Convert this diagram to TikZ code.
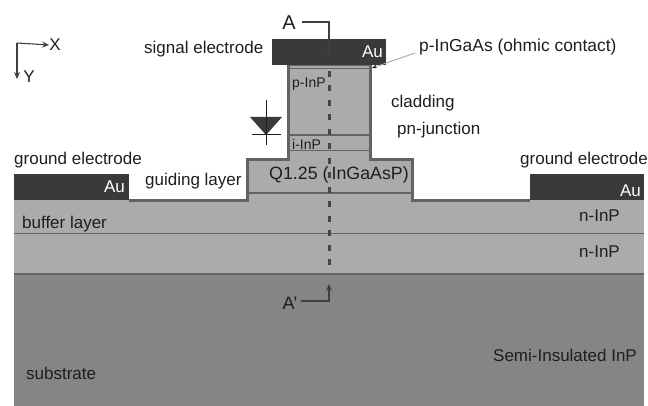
\documentclass[tikz,border=0pt]{standalone}
\usepackage{fontspec}
\setmainfont{Liberation Sans}
\usetikzlibrary{arrows.meta}
\definecolor{layergray}{HTML}{ABABAB}
\definecolor{subgray}{HTML}{858585}
\definecolor{edgegray}{HTML}{636363}
\definecolor{metalgray}{HTML}{3A3A3A}
\definecolor{inkgray}{HTML}{1E1E1E}

\begin{document}
\begin{tikzpicture}[
  x=1pt, y=-1pt,
  every node/.style={font=\fontsize{17}{20}\selectfont, text=inkgray, inner sep=0pt},
  gold/.style={fill=metalgray, draw=none, minimum height=26pt, anchor=north west},
  ridge/.style={draw=edgegray, line width=3pt, fill=layergray, line join=miter},
  seam/.style={draw=edgegray, line width=1.7pt},
  thinseam/.style={draw=edgegray, line width=1pt},
  pointer/.style={-{Stealth[length=7pt, width=6pt]}, draw=inkgray!85, line width=1.1pt},
  lbl/.style={anchor=west},
  lblsmall/.style={anchor=west, font=\fontsize{14}{16}\selectfont},
  aulbl/.style={anchor=east, text=white},
  diode/.style={draw=inkgray, line width=1pt}
]
\useasboundingbox (0,0) rectangle (648,406);

% layers
\fill[subgray] (14,274) rectangle (644,406);
\fill[layergray] (14,200) rectangle (644,274);
\draw[seam] (14,233.5) -- (644,233.5);
\draw[seam] (14,274) -- (644,274);

% ridge
\draw[ridge] (129,201) -- (247,201) -- (247,160) -- (288,160) -- (288,65)
  -- (370,65) -- (370,160) -- (412,160) -- (412,201) -- (530,201);
\draw[seam] (247,193) -- (412,193);
\draw[seam] (288,135) -- (370,135);
\draw[thinseam] (288,151) -- (370,151);
\draw[thinseam] (288,69) -- (370,69);

% electrodes
\node[gold, minimum width=114pt] (sigpad) at (272,39) {};
\node[gold, minimum width=115pt] (gndleft) at (14,174) {};
\node[gold, minimum width=114pt] (gndright) at (530,174) {};
\node[aulbl] (ausig) at (383,52) {Au};
\node[aulbl] (auleft) at (125,187) {Au};
\node[aulbl] (auright) at (641,191) {Au};

% section line
\coordinate (secTop) at (329,71);
\coordinate (secBot) at (329,266);
\draw[draw=edgegray!70!black, line width=3pt, dash pattern=on 6pt off 8.5pt] (secTop) -- (secBot);

% section marks
\node[font=\fontsize{20}{22}\selectfont] (secA) at (289,23) {A};
\coordinate (secAend) at (329,56);
\draw[pointer] (302,22) -| (secAend);
\node[font=\fontsize{18}{20}\selectfont] (secB) at (290,303) {A'};
\coordinate (secBend) at (329,284);
\draw[pointer] (301,301) -| (secBend);

% axes
\coordinate (origin) at (17,43);
\node (axisx) at (55,45) {X};
\node (axisy) at (29,77) {Y};
\draw[pointer] (origin) -- (axisx.west);
\draw[pointer] (origin) -- (17,79);

% diode
\fill[metalgray] (250,117) -- (282,117) -- (266,135) -- cycle;
\draw[diode] (266,100) -- (266,145);
\draw[diode] (252,135) -- (281,135);

% labels
\node[lbl] (signal) at (144,49) {signal electrode};
\node[lbl, font=\fontsize{17.4}{20}\selectfont] (contact) at (419,47) {p-InGaAs (ohmic contact)};
\coordinate (contactend) at (372,68);
\draw[draw=gray!70, line width=0.9pt, -{Stealth[length=5pt, width=4pt, color=inkgray]}] (415,53) -- (contactend);
\node[lbl] (cladding) at (391,103) {cladding};
\node[lbl] (junction) at (397,130) {pn-junction};
\node[lblsmall] (pinp) at (292,84) {p-InP};
\node[lblsmall] (iinp) at (292,144) {i-InP};
\node[lbl, font=\fontsize{17.8}{20}\selectfont] (guide) at (269,175) {Q1.25 (\hspace{3pt}InGaAsP)};
\node[lbl] (gndlabelleft) at (14,160) {ground electrode};
\node[lbl] (gndlabelright) at (520,160) {ground electrode};
\node[lbl] (guidelabel) at (145,181) {guiding layer};
\node[lbl] (buffer) at (22,224) {buffer layer};
\node[lbl] (ninpone) at (579,216) {n-InP};
\node[lbl] (ninptwo) at (579,252) {n-InP};
\node[lbl] (substrate) at (26,373) {substrate};
\node[lbl] (semi) at (493,355) {Semi-Insulated InP};

\end{tikzpicture}
\end{document}
